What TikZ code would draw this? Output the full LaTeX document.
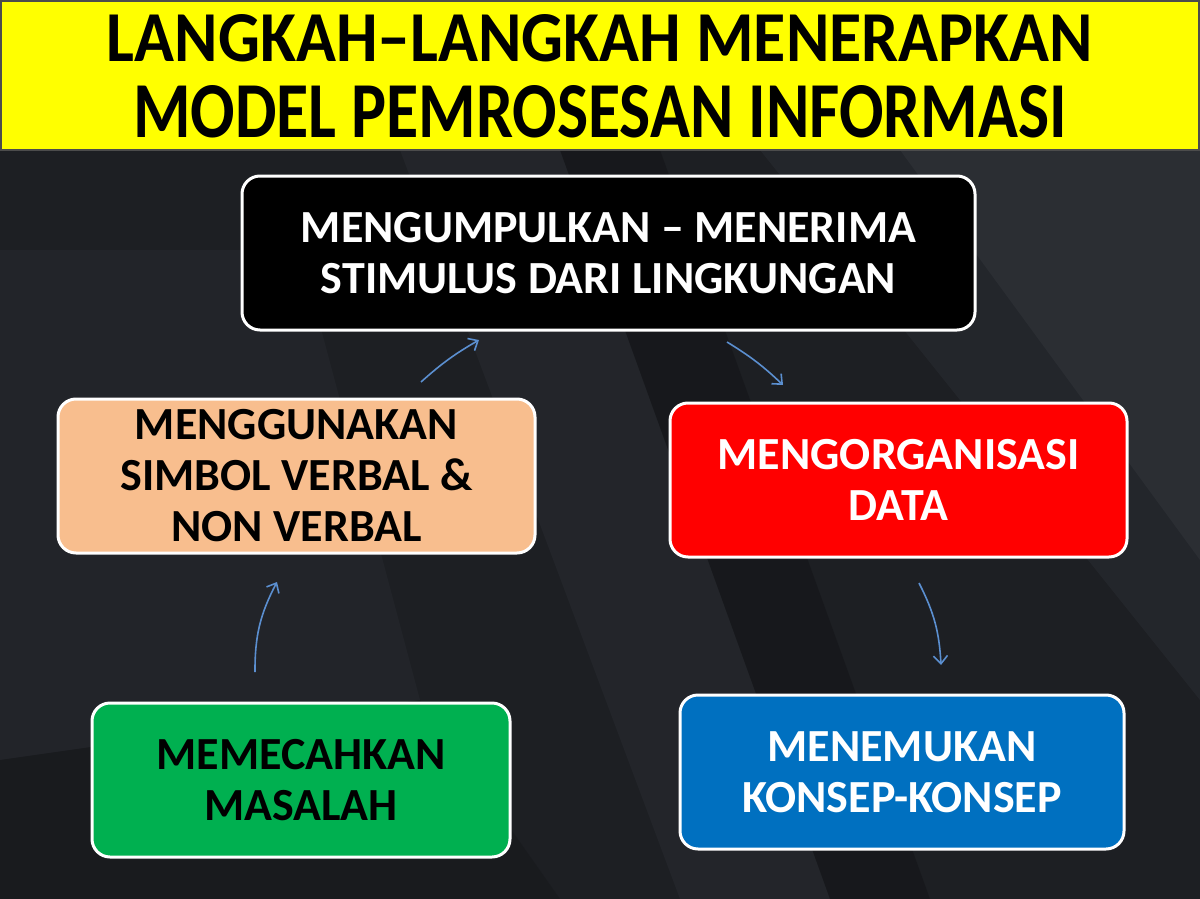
\documentclass[tikz,border=0pt]{standalone}
\usepackage{fontspec}
\usepackage{graphicx}
\setmainfont{Carlito}
\usetikzlibrary{arrows.meta}
\definecolor{bgdark}{HTML}{1D1F23}
\definecolor{bgmid}{HTML}{2C2F35}
\definecolor{bglight}{HTML}{3A3D43}
\definecolor{bgdeep}{HTML}{131417}
\definecolor{peach}{HTML}{F8BE8E}
\definecolor{boxred}{HTML}{FF0000}
\definecolor{boxgreen}{HTML}{00B050}
\definecolor{boxblue}{HTML}{0070C0}
\definecolor{arrowblue}{HTML}{5B8FD0}
\definecolor{titleyellow}{HTML}{FFFF00}
\begin{document}
\begin{tikzpicture}[x=1pt,y=-1pt,
  box/.style={draw=white, line width=3pt, rounded corners=18pt, minimum height=154pt,
    inner sep=0pt, align=center, font=\fontsize{46}{51}\selectfont\bfseries},
  flow/.style={draw=arrowblue, line width=1.6pt, -{Straight Barb[length=8pt,width=14pt]}},
  titletext/.style={anchor=base, inner sep=0pt}]
\useasboundingbox (0,0) rectangle (1200,899);
% background
\fill[bgdark] (0,0) rectangle (1200,899);
\fill[bgmid, opacity=0.35] (0,250) -- (300,250) -- (420,700) -- (0,760) -- cycle;
\fill[bgmid, opacity=0.4] (400,150) -- (560,150) -- (830,899) -- (680,899) -- cycle;
\fill[bgdeep, opacity=0.55] (560,150) -- (660,150) -- (930,899) -- (830,899) -- cycle;
\fill[bgmid, opacity=0.45] (760,150) -- (1200,150) -- (1200,700) -- cycle;
\fill[bglight, opacity=0.35] (900,150) -- (1200,150) -- (1200,560) -- cycle;
\fill[bgdeep, opacity=0.35] (0,760) -- (420,700) -- (560,899) -- (0,899) -- cycle;
% title
\fill[titleyellow] (0,0) rectangle (1200,150);
\draw[gray!60!black, line width=2pt] (1,1) rectangle (1199,150);
\node[titletext] (t1) at (600,62) {\resizebox{986pt}{47pt}{\fontsize{73}{73}\selectfont\bfseries LANGKAH–LANGKAH MENERAPKAN}};
\node[titletext] (t2) at (600,137) {\resizebox{934pt}{52pt}{\fontsize{73}{73}\selectfont\bfseries MODEL PEMROSESAN INFORMASI}};
% boxes
\node[box, fill=black, text=white, minimum width=733pt] (collect) at (608.5,253)
  {MENGUMPULKAN – MENERIMA\\STIMULUS DARI LINGKUNGAN};
\node[box, fill=peach, text=black, minimum width=477pt] (symbol) at (296.5,476)
  {MENGGUNAKAN\\SIMBOL VERBAL \&\\NON VERBAL};
\node[box, fill=boxred, text=white, minimum width=457pt] (organize) at (898.5,480)
  {MENGORGANISASI\\DATA};
\node[box, fill=boxgreen, text=black, minimum width=418pt] (solve) at (301,780)
  {MEMECAHKAN\\MASALAH};
\node[box, fill=boxblue, text=white, minimum width=444pt] (concept) at (902,772)
  {MENEMUKAN\\KONSEP-KONSEP};
% arrows
\coordinate (a1s) at (255,672); \coordinate (a1e) at (277,582);
\coordinate (a2s) at (421,382); \coordinate (a2e) at (479,340);
\coordinate (a3s) at (727,342); \coordinate (a3e) at (783,385);
\coordinate (a4s) at (919,583); \coordinate (a4e) at (941,665);
\draw[flow] (a1s) to[bend left=14] (a1e);
\draw[flow] (a2s) to[bend left=6] (a2e);
\draw[flow] (a3s) to[bend left=6] (a3e);
\draw[flow] (a4s) to[bend left=12] (a4e);
\end{tikzpicture}
\end{document}
